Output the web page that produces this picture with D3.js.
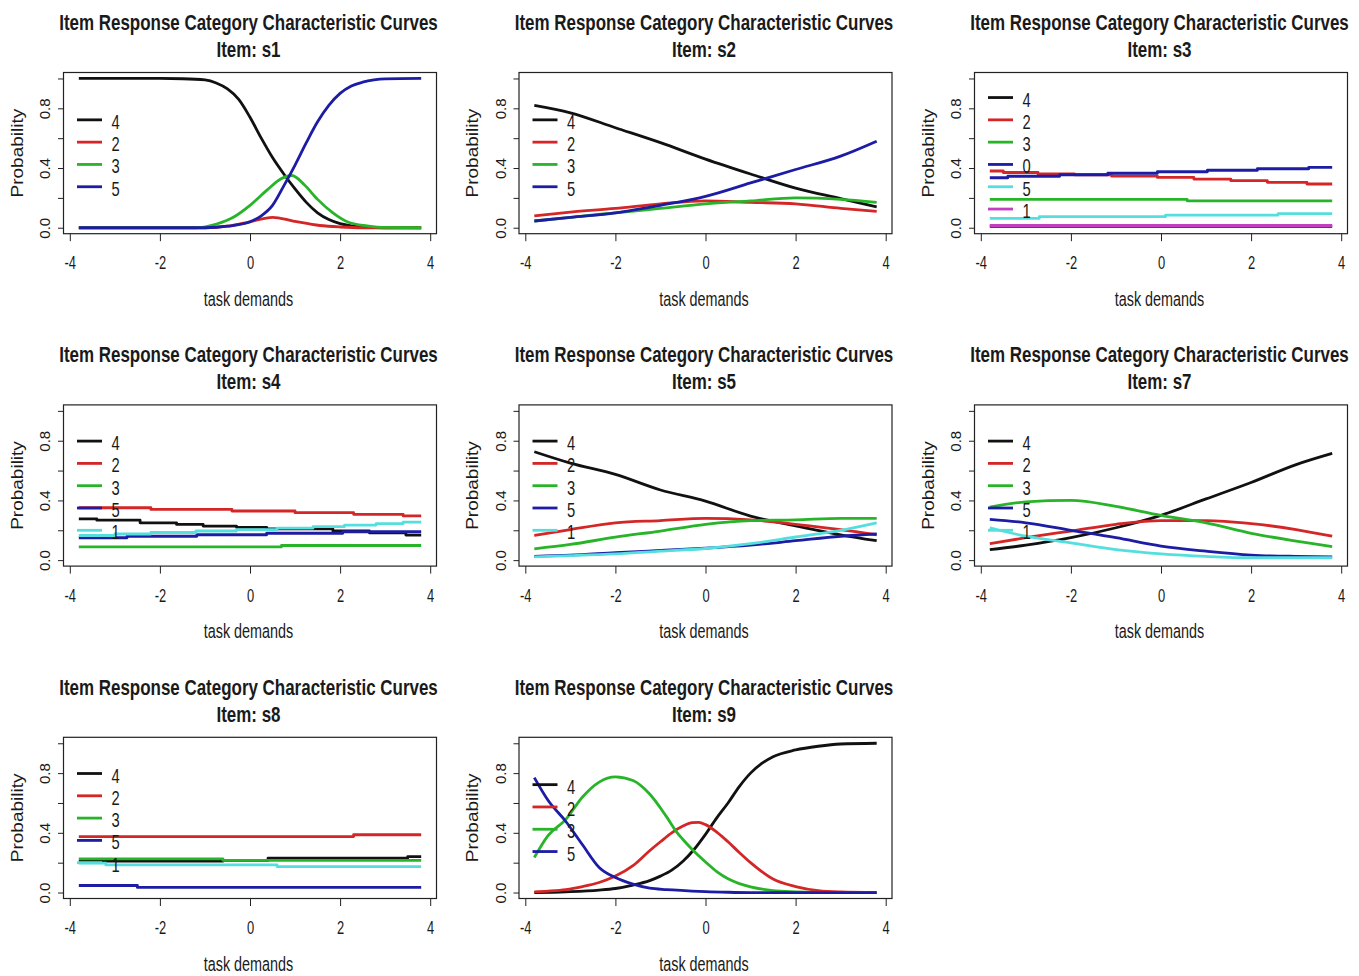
<!DOCTYPE html>
<html>
<head>
<meta charset="utf-8">
<script src="https://cdn.jsdelivr.net/npm/d3@7"></script>
<style>
body { margin: 0; background: #fff; }
svg text { font-family: "Liberation Sans", Arial, sans-serif; fill: #1a1a1a; }
</style>
</head>
<body>
<script>
// ---------------------------- data ----------------------------
const items = ["s1", "s2", "s3", "s4", "s5", "s7", "s8", "s9"]
const legendLabels = [
    ["4", "2", "3", "5"],
    ["4", "2", "3", "5"],
    ["4", "2", "3", "0", "5", "1"],
    ["4", "2", "3", "5", "1"],
    ["4", "2", "3", "5", "1"],
    ["4", "2", "3", "5", "1"],
    ["4", "2", "3", "5", "1"],
    ["4", "2", "3", "5"]
]
// panels whose curves are drawn as flat steps
const stepItems = ["s3", "s4", "s8"]
const xTicks = [-4, -2, 0, 2, 4]
const yTicks = [0, 0.2, 0.4, 0.6, 0.8, 1.0]
const yLabelled = [0, 0.4, 0.8]
const titleText = "Item Response Category Characteristic Curves"

// s1  [theta, probability]
const s1_4 = [[-3.8, 1], [-2, 1], [-1.5, 0.998], [-1, 0.99], [-0.75, 0.97], [-0.5, 0.93], [-0.25, 0.86], [0, 0.74], [0.25, 0.6], [0.5, 0.47], [0.75, 0.36], [1, 0.26], [1.25, 0.17], [1.5, 0.1], [1.75, 0.055], [2, 0.028], [2.25, 0.013], [2.5, 0.005], [3, 0], [3.8, 0]]
const s1_2 = [[-3.8, 0], [-1, 0], [-0.5, 0.01], [0, 0.04], [0.5, 0.07], [0.96, 0.045], [1.55, 0.015], [2, 0.005], [2.5, 0], [3.8, 0]]
const s1_3 = [[-3.8, 0], [-1.2, 0], [-0.74, 0.025], [-0.37, 0.07], [0, 0.15], [0.37, 0.25], [0.7, 0.33], [0.93, 0.35], [1.2, 0.29], [1.5, 0.19], [1.84, 0.1], [2.2, 0.035], [2.6, 0.013], [3, 0.002], [3.8, 0]]
const s1_5 = [[-3.8, 0], [-1, 0], [-0.5, 0.01], [0, 0.04], [0.25, 0.08], [0.5, 0.15], [0.75, 0.28], [1, 0.42], [1.25, 0.57], [1.5, 0.71], [1.75, 0.82], [2, 0.9], [2.25, 0.95], [2.5, 0.975], [2.75, 0.99], [3, 0.997], [3.8, 1]]

// s2
const s2_4 = [[-3.8, 0.82], [-3, 0.77], [-2, 0.67], [-1, 0.57], [0, 0.46], [1, 0.36], [2, 0.265], [3, 0.195], [3.8, 0.14]]
const s2_2 = [[-3.8, 0.08], [-3, 0.105], [-2, 0.13], [-1, 0.16], [0, 0.18], [1, 0.17], [2, 0.16], [3, 0.13], [3.8, 0.11]]
const s2_3 = [[-3.8, 0.045], [-3, 0.07], [-2, 0.1], [-1, 0.13], [0, 0.16], [1, 0.18], [2, 0.2], [3, 0.19], [3.8, 0.17]]
const s2_5 = [[-3.8, 0.045], [-3, 0.07], [-2, 0.1], [-1, 0.15], [0, 0.21], [1, 0.3], [2, 0.39], [3, 0.48], [3.8, 0.58]]

// s3 (steps)
const s3_4 = [[-3.8, 0.01], [3.8, 0.01]]
const s3_2 = [[-3.8, 0.38], [-3.5, 0.37], [-2.73, 0.36], [-1.92, 0.355], [-1.1, 0.346], [-0.08, 0.337], [0.73, 0.326], [1.55, 0.315], [2.36, 0.304], [3.24, 0.293], [3.8, 0.293]]
const s3_3 = [[-3.8, 0.19], [0.58, 0.18], [3.8, 0.18]]
const s3_0 = [[-3.8, 0.335], [-3.4, 0.345], [-2.25, 0.355], [-1.18, 0.365], [-0.08, 0.375], [1.03, 0.385], [2.14, 0.395], [3.28, 0.405], [3.8, 0.405]]
const s3_5 = [[-3.8, 0.063], [-2.7, 0.074], [0.1, 0.085], [2.6, 0.094], [3.8, 0.094]]
const s3_1 = [[-3.8, 0.015], [3.8, 0.015]]

// s4 (steps)
const s4_4 = [[-3.8, 0.277], [-3.4, 0.268], [-2.44, 0.25], [-1.63, 0.239], [-1.04, 0.228], [-0.3, 0.22], [0.37, 0.21], [1.84, 0.195], [2.65, 0.183], [3.46, 0.168], [3.8, 0.168]]
const s4_2 = [[-3.8, 0.351], [-2.2, 0.34], [-0.4, 0.329], [1, 0.318], [2.3, 0.307], [3.4, 0.296], [3.8, 0.296]]
const s4_3 = [[-3.8, 0.089], [0.7, 0.098], [3.8, 0.098]]
const s4_5 = [[-3.8, 0.15], [-2.73, 0.16], [-1.18, 0.17], [0.37, 0.18], [2.06, 0.19], [3.8, 0.19]]
const s4_1 = [[-3.8, 0.165], [-3, 0.175], [-2.2, 0.185], [-1.2, 0.195], [-0.3, 0.205], [0.6, 0.215], [1.4, 0.225], [2.1, 0.235], [2.8, 0.245], [3.4, 0.255], [3.8, 0.255]]

// s5
const s5_4 = [[-3.8, 0.726], [-3, 0.65], [-2, 0.574], [-1, 0.47], [0, 0.395], [1, 0.295], [2, 0.23], [3, 0.17], [3.8, 0.13]]
const s5_2 = [[-3.8, 0.165], [-3, 0.205], [-2, 0.25], [-1, 0.265], [0, 0.28], [1, 0.27], [2, 0.24], [3, 0.205], [3.8, 0.17]]
const s5_3 = [[-3.8, 0.076], [-3, 0.105], [-2, 0.154], [-1, 0.195], [0, 0.24], [1, 0.265], [2, 0.27], [3, 0.28], [3.8, 0.28]]
const s5_5 = [[-3.8, 0.025], [-3, 0.033], [-2, 0.05], [-1, 0.065], [0, 0.08], [1, 0.1], [2, 0.13], [3, 0.16], [3.8, 0.175]]
const s5_1 = [[-3.8, 0.022], [-3, 0.03], [-2, 0.042], [-1, 0.06], [0, 0.078], [1, 0.11], [2, 0.155], [3, 0.2], [3.8, 0.25]]

// s7
const s7_4 = [[-3.8, 0.07], [-3, 0.1], [-2, 0.15], [-1, 0.217], [0, 0.3], [1, 0.41], [2, 0.52], [3, 0.64], [3.8, 0.715]]
const s7_2 = [[-3.8, 0.11], [-3, 0.15], [-2, 0.195], [-1, 0.24], [0, 0.265], [1, 0.265], [2, 0.245], [3, 0.205], [3.8, 0.16]]
const s7_3 = [[-3.8, 0.355], [-3, 0.39], [-2, 0.4], [-1, 0.36], [0, 0.3], [1, 0.25], [2, 0.18], [3, 0.127], [3.8, 0.09]]
const s7_5 = [[-3.8, 0.273], [-3, 0.25], [-2, 0.2], [-1, 0.15], [0, 0.094], [1, 0.06], [2, 0.034], [3, 0.025], [3.8, 0.022]]
const s7_1 = [[-3.8, 0.217], [-3, 0.16], [-2, 0.116], [-1, 0.07], [0, 0.042], [1, 0.025], [2, 0.016], [3, 0.016], [3.8, 0.016]]

// s8 (steps)
const s8_4 = [[-3.8, 0.21], [-0.6, 0.215], [0.4, 0.23], [3.5, 0.24], [3.8, 0.24]]
const s8_2 = [[-3.8, 0.375], [2.3, 0.387], [3.8, 0.387]]
const s8_3 = [[-3.8, 0.226], [-0.6, 0.215], [3.8, 0.215]]
const s8_5 = [[-3.8, 0.047], [-2.5, 0.034], [3.8, 0.034]]
const s8_1 = [[-3.8, 0.197], [-3.2, 0.185], [0.6, 0.174], [3.8, 0.174]]

// s9
const s9_4 = [[-3.8, 0], [-3.1, 0.005], [-2.36, 0.016], [-2, 0.027], [-1.61, 0.05], [-1.24, 0.08], [-1, 0.11], [-0.75, 0.15], [-0.5, 0.21], [-0.25, 0.29], [0, 0.39], [0.25, 0.5], [0.5, 0.6], [0.75, 0.71], [1, 0.8], [1.25, 0.865], [1.5, 0.91], [2, 0.955], [2.5, 0.98], [3, 0.995], [3.8, 1]]
const s9_2 = [[-3.8, 0.005], [-3.5, 0.01], [-3.1, 0.02], [-2.73, 0.04], [-2.36, 0.067], [-2, 0.11], [-1.61, 0.18], [-1.24, 0.28], [-1, 0.34], [-0.75, 0.4], [-0.5, 0.445], [-0.3, 0.468], [-0.15, 0.47], [0, 0.455], [0.25, 0.405], [0.5, 0.34], [0.75, 0.268], [1, 0.2], [1.25, 0.14], [1.5, 0.09], [2, 0.04], [2.5, 0.013], [3, 0.004], [3.8, 0]]
const s9_3 = [[-3.8, 0.235], [-3.5, 0.38], [-3.1, 0.49], [-2.73, 0.64], [-2.36, 0.74], [-2, 0.775], [-1.61, 0.75], [-1.24, 0.66], [-0.87, 0.51], [-0.64, 0.405], [-0.5, 0.355], [-0.3, 0.29], [0, 0.205], [0.25, 0.14], [0.5, 0.092], [0.75, 0.06], [1, 0.038], [1.5, 0.013], [2, 0.005], [2.5, 0.001], [3, 0], [3.8, 0]]
const s9_5 = [[-3.8, 0.77], [-3.5, 0.62], [-3.1, 0.476], [-2.73, 0.32], [-2.36, 0.168], [-2, 0.1], [-1.61, 0.056], [-1.24, 0.029], [-0.87, 0.02], [-0.64, 0.016], [-0.3, 0.01], [0, 0.006], [0.5, 0.002], [1, 0], [3.8, 0]]

const curves = {
    s1: [s1_4, s1_2, s1_3, s1_5],
    s2: [s2_4, s2_2, s2_3, s2_5],
    s3: [s3_4, s3_2, s3_3, s3_0, s3_5, s3_1],
    s4: [s4_4, s4_2, s4_3, s4_5, s4_1],
    s5: [s5_4, s5_2, s5_3, s5_5, s5_1],
    s7: [s7_4, s7_2, s7_3, s7_5, s7_1],
    s8: [s8_4, s8_2, s8_3, s8_5, s8_1],
    s9: [s9_4, s9_2, s9_3, s9_5]
}

// R palette 1:6 (black, red, green3, blue, cyan, magenta) as it looks in the picture
const palette = ["#111111", "#d42626", "#28b428", "#1c1ca4", "#55dede", "#c23fc2"]

//----------------------------------------------------------------------------------------------
const W = 1359, H = 976
const boxW = 373, boxH = 161.2

const svg = d3.select("body").append("svg")
    .attr("width", W)
    .attr("height", H)
svg.append("rect").attr("width", W).attr("height", H).attr("fill", "#fff")

// the whole picture is squeezed horizontally: measure the title to get the factor
const probe = svg.append("text").attr("font-size", 23).attr("font-weight", "bold").text(titleText)
const k = 379 / probe.node().getComputedTextLength()
probe.remove()

items.forEach((item, i) => {
    const col = i % 3
    const row = Math.floor(i / 3)
    const left = 63.5 + col * 455.5
    const top = 72.5 + row * 332.4
    const bottom = top + boxH

    const x = d3.scaleLinear().domain([-4.14, 4.14]).range([left, left + boxW])
    const y = d3.scaleLinear().domain([-0.04, 1.04]).range([bottom, top])

    const g = svg.append("g")

    // curves
    const line = d3.line()
        .x(d => x(d[0]))
        .y(d => y(d[1]))
        .curve(stepItems.includes(item) ? d3.curveStepAfter : d3.curveMonotoneX)

    curves[item].forEach((c, j) => {
        g.append("path")
            .attr("d", line(c))
            .attr("fill", "none")
            .attr("stroke", palette[j])
            .attr("stroke-width", 2.8)
            .attr("stroke-linejoin", "round")
    })

    // box
    g.append("rect")
        .attr("x", left).attr("y", top)
        .attr("width", boxW).attr("height", boxH)
        .attr("fill", "none").attr("stroke", "#222").attr("stroke-width", 1.2)

    // x axis
    const xAxis = g.append("g")
        .attr("transform", `translate(0,${bottom})`)
        .call(d3.axisBottom(x).tickValues(xTicks).tickSize(7.5).tickFormat(d => String(d)))
    xAxis.select(".domain").remove()
    xAxis.selectAll("line").attr("stroke", "#222")
    xAxis.selectAll("text")
        .attr("y", null).attr("dy", null)
        .attr("font-size", 17.5)
        .attr("transform", `translate(0,35.5) scale(${k},1)`)

    // y axis
    const yAxis = g.append("g")
        .attr("transform", `translate(${left},0)`)
        .call(d3.axisLeft(y).tickValues(yTicks).tickSize(5.5)
            .tickFormat(d => yLabelled.includes(d) ? d.toFixed(1) : ""))
    yAxis.select(".domain").remove()
    yAxis.selectAll("line").attr("stroke", "#222")
    yAxis.selectAll("text")
        .attr("x", null).attr("dy", null)
        .attr("text-anchor", "middle")
        .attr("font-size", 15)
        .attr("transform", `translate(-13.5,0) scale(0.95,1) rotate(-90)`)

    // titles
    const cx = left + boxW / 2 - 1.5
    g.append("text")
        .attr("text-anchor", "middle").attr("font-size", 23).attr("font-weight", "bold")
        .attr("transform", `translate(${cx},${top - 42.5}) scale(${k},1)`)
        .text(titleText)
    g.append("text")
        .attr("text-anchor", "middle").attr("font-size", 23).attr("font-weight", "bold")
        .attr("transform", `translate(${cx},${top - 15.8}) scale(${k},1)`)
        .text("Item: " + item)

    g.append("text")
        .attr("text-anchor", "middle").attr("font-size", 19.5)
        .attr("transform", `translate(${cx},${bottom + 72.3}) scale(${k},1)`)
        .text("task demands")
    g.append("text")
        .attr("text-anchor", "middle").attr("font-size", 19)
        .attr("transform", `translate(${left - 41},${top + boxH / 2}) scale(0.85,1) rotate(-90)`)
        .text("Probability")

    // legend, vertically centred on the left
    const labels = legendLabels[i]
    const step = 22.3
    const y0 = top + 80.8 - (labels.length - 1) * step / 2
    labels.forEach((lab, j) => {
        const ly = y0 + j * step
        g.append("line")
            .attr("x1", left + 13.5).attr("x2", left + 38.5)
            .attr("y1", ly).attr("y2", ly)
            .attr("stroke", palette[j]).attr("stroke-width", 2.8)
        g.append("text")
            .attr("font-size", 20)
            .attr("transform", `translate(${left + 48},${ly + 9}) scale(${k},1)`)
            .text(lab)
    })
})
</script>
</body>
</html>
